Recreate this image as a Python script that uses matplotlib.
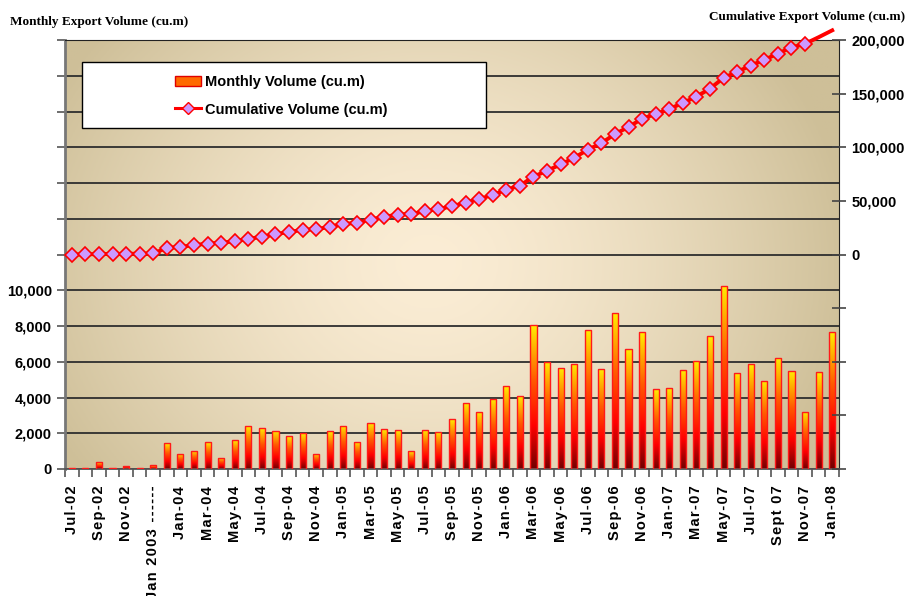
import numpy as np
import matplotlib
matplotlib.use("Agg")
import matplotlib.pyplot as plt
from matplotlib.colors import LinearSegmentedColormap
from matplotlib.patches import Rectangle, Patch
from matplotlib.lines import Line2D

# category labels (only every other one is printed on the axis)
shown_labels = ["Jul-02", "Sep-02", "Nov-02", "Jan 2003 ------", "Jan-04", "Mar-04",
                "May-04", "Jul-04", "Sep-04", "Nov-04", "Jan-05", "Mar-05", "May-05",
                "Jul-05", "Sep-05", "Nov-05", "Jan-06", "Mar-06", "May-06", "Jul-06",
                "Sep-06", "Nov-06", "Jan-07", "Mar-07", "May-07", "Jul-07", "Sept 07",
                "Nov-07", "Jan-08"]

monthly = [75, 75, 370, 40, 185, 40, 220, 1450, 855, 1020, 1490, 630, 1600, 2380,
           2290, 2140, 1840, 2010, 855, 2120, 2430, 1520, 2580, 2210, 2170, 1000,
           2170, 2080, 2790, 3720, 3200, 3940, 4630, 4090, 8030, 5990, 5670, 5890,
           7770, 5600, 8720, 6710, 7640, 4460, 4540, 5560, 6020, 7420, 10260, 5390,
           5860, 4930, 6230, 5500, 3200, 5410, 7640]

cumulative = [0, 80, 450, 490, 680, 720, 940, 6200, 7100, 8700, 10200, 10900, 12400,
              14600, 16600, 18900, 21000, 23000, 23600, 25700, 28500, 29500, 32600,
              35100, 37200, 37800, 40300, 42500, 44900, 48400, 51800, 55500, 60500,
              64200, 72600, 78100, 84000, 90200, 97700, 103800, 112300, 118900,
              126600, 131000, 135700, 141300, 147200, 154700, 164700, 170300, 176200,
              181500, 187400, 193000, 196500, 202600, 209000]

n = len(monthly)
x = np.arange(n)
fam = ["Liberation Sans", "DejaVu Sans"]

fig = plt.figure(figsize=(9.07, 5.96), dpi=100)
ax = fig.add_axes([65 / 907, 1 - 469 / 596, (839 - 65) / 907, (469 - 40) / 596])

# background: soft radial gradient, peach in the middle, tan at the edges
gx, gy = np.meshgrid(np.linspace(0, 1, 300), np.linspace(0, 1, 200))
d = np.sqrt(((gx - 0.47) / 0.55) ** 2 + ((gy - 0.48) / 0.85) ** 2)
d = np.clip(d, 0, 1) ** 1.5
c_in = np.array([251, 237, 213]) / 255
c_out = np.array([206, 191, 152]) / 255
bg = c_in[None, None, :] * (1 - d[..., None]) + c_out[None, None, :] * d[..., None]
ax.imshow(bg, extent=[0, 1, 0, 1], transform=ax.transAxes, aspect="auto",
          zorder=0, origin="lower")

# bars with vertical gradient
bar_cmap = LinearSegmentedColormap.from_list(
    "bar", [(0, "#6e0000"), (0.3, "#ff0000"), (0.62, "#ff5a00"), (1, "#ffee00")])
grad = np.linspace(0, 1, 256).reshape(-1, 1)
w = 0.45
for xi, h in zip(x, monthly):
    rect = Rectangle((xi - w / 2, 0), w, h, facecolor="none", edgecolor="#ff1a1a",
                     linewidth=1.0, zorder=3)
    ax.add_patch(rect)
    im = ax.imshow(grad, extent=[xi - w / 2, xi + w / 2, 0, h], origin="lower",
                   aspect="auto", cmap=bar_cmap, zorder=2)
    im.set_clip_path(rect)

ax.set_xlim(-0.5, n - 0.5)
ax.set_ylim(0, 24000)
ax.set_aspect("auto")

left_ticks = np.arange(0, 24001, 2000)
ax.set_yticks(left_ticks)
ax.set_yticklabels([f"{v:,}" if v <= 10000 else "" for v in left_ticks])
ax.yaxis.grid(True, color="#2e2e2e", linewidth=1.3, zorder=1)
ax.set_axisbelow(True)

# spread the letters a little, like the original axis labels
spaced = ["\u200a".join(s) for s in shown_labels]
ax.set_xticks(np.arange(0, n, 2))
ax.set_xticklabels(spaced, rotation=90)
ax.set_xticks(np.arange(-0.5, n, 1), minor=True)
ax.tick_params(axis="x", which="major", length=0, pad=12)
ax.tick_params(axis="x", which="minor", length=6, color="#555555", width=1.2)
ax.tick_params(axis="y", length=6, color="#555555", width=1.2)
for lab in ax.get_xticklabels() + ax.get_yticklabels():
    lab.set_fontfamily(fam)
    lab.set_fontweight("bold")
    lab.set_fontsize(10.5)

ax.spines["left"].set_color("#777777")
ax.spines["left"].set_linewidth(2)
ax.spines["bottom"].set_color("#555555")
ax.spines["bottom"].set_linewidth(1.3)
ax.spines["top"].set_color("#222222")
ax.spines["right"].set_color("#222222")

# cumulative line on the right axis
ax2 = ax.twinx()
ax2.plot(x, cumulative, color="#ff0000", linewidth=2.8, marker="D", markersize=7,
         markerfacecolor="#cc99ff", markeredgecolor="#ff0000", markeredgewidth=1.2,
         markevery=list(range(55)), clip_on=False, zorder=5)
ax2.set_ylim(-200000, 200000)
right_ticks = np.arange(-200000, 200001, 50000)
ax2.set_yticks(right_ticks)
ax2.set_yticklabels([f"{v:,}" if v >= 0 else "" for v in right_ticks])
ax2.tick_params(axis="y", direction="inout", length=10, color="#444444", width=1.2, pad=4)
for lab in ax2.get_yticklabels():
    lab.set_fontfamily(fam)
    lab.set_fontweight("bold")
    lab.set_fontsize(10.5)
for sp in ax2.spines.values():
    sp.set_visible(False)

# legend in a plain white box
box = Rectangle((82 / 907, 1 - 128 / 596), (486 - 82) / 907, (128 - 62) / 596,
                transform=fig.transFigure, facecolor="white", edgecolor="black",
                linewidth=1.0, zorder=6)
fig.patches.append(box)
handles = [Patch(facecolor="#ff6a00", edgecolor="#e00000", linewidth=1.0),
           Line2D([], [], color="#ff0000", linewidth=2.2, marker="D", markersize=6.5,
                  markerfacecolor="#cc99ff", markeredgecolor="#ff0000")]
leg = fig.legend(handles, ["Monthly Volume (cu.m)", "Cumulative Volume (cu.m)"],
                 loc="center", bbox_to_anchor=(281 / 907, 1 - 96 / 596),
                 frameon=False, prop={"family": "Liberation Sans", "weight": "bold",
                                      "size": 10.5},
                 handlelength=1.8, handletextpad=0.25, labelspacing=0.9)
leg.set_zorder(7)

fig.text(10 / 907, 1 - 22 / 596, "Monthly Export Volume (cu.m)", ha="left",
         va="center", fontfamily="Liberation Serif", fontweight="bold", fontsize=9.5)
fig.text(905 / 907, 1 - 17 / 596, "Cumulative Export Volume (cu.m)", ha="right",
         va="center", fontfamily="Liberation Serif", fontweight="bold", fontsize=9.5)

fig.savefig("out.png", dpi=100)
